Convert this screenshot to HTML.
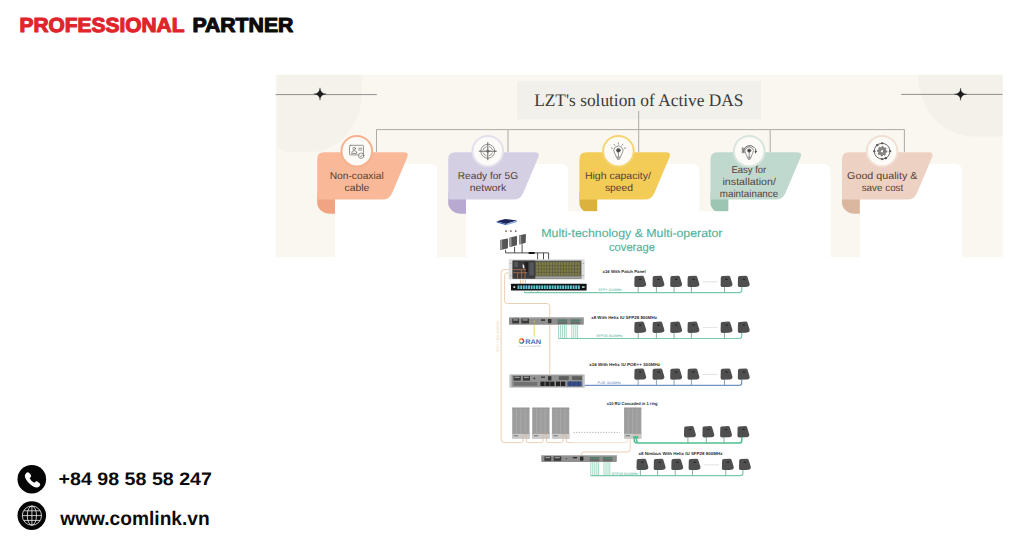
<!DOCTYPE html>
<html lang="en"><head><meta charset="utf-8"><title>Professional Partner</title>
<style>
html,body{margin:0;padding:0;background:#fff;}
body{width:1024px;height:538px;overflow:hidden;position:relative;font-family:'Liberation Sans', Arial, sans-serif;}
svg{position:absolute;left:0;top:0;display:block;}
svg text{text-rendering:geometricPrecision;}
</style></head><body>
<svg width="1024" height="538" viewBox="0 0 1024 538">
<rect x="275.6" y="74.8" width="727.0" height="182.5" fill="#f9f7f0"/>
<path d="M277,74.8 H362 V92 A52,60 0 0 1 310,152 H289 Q277,152 277,140 Z" fill="#f4f2eb"/>
<path d="M918.2,74.8 V75 A55,61.4 0 0 0 973.2,136.4 H1002.6 V74.8 Z" fill="#f3f1ea"/>
<line x1="275.6" y1="94.6" x2="376.8" y2="94.6" stroke="#858585" stroke-width="0.9"/>
<path transform="translate(320,94)" d="M0,-6.2 Q0.3,-0.3 6.2,0 Q0.3,0.3 0,6.2 Q-0.3,0.3 -6.2,0 Q-0.3,-0.3 0,-6.2Z" fill="#1d1d1d" stroke="#1d1d1d" stroke-width="0.3"/>
<line x1="901.2" y1="94.4" x2="1002.6" y2="94.4" stroke="#858585" stroke-width="0.9"/>
<path transform="translate(960.6,94.2)" d="M0,-6.2 Q0.3,-0.3 6.2,0 Q0.3,0.3 0,6.2 Q-0.3,0.3 -6.2,0 Q-0.3,-0.3 0,-6.2Z" fill="#1d1d1d" stroke="#1d1d1d" stroke-width="0.3"/>
<rect x="517" y="81" width="244" height="38.3" fill="#f2f0ea"/>
<text x="534.2" y="106.1" font-size="17.7" fill="#3b3b3b" font-weight="normal" font-family="'Liberation Serif', 'Times New Roman', serif" text-anchor="start" textLength="209.2" lengthAdjust="spacingAndGlyphs" >LZT's solution of Active DAS</text>
<path d="M376.5,152 V129.6 H904.4 V152 M508,129.6 V152 M638.7,111 V152 M770.2,129.6 V152" fill="none" stroke="#aeaaa5" stroke-width="1"/>
<path d="M335.2,257.3 V171 Q335.2,164 342.2,164 H430.2 Q437.2,164 437.2,171 V257.3 Z" fill="#ffffff"/>
<path d="M466.2,257.3 V171 Q466.2,164 473.2,164 H561.2 Q568.2,164 568.2,171 V257.3 Z" fill="#ffffff"/>
<path d="M597.4,257.3 V171 Q597.4,164 604.4,164 H692.4 Q699.4,164 699.4,171 V257.3 Z" fill="#ffffff"/>
<path d="M728.5,257.3 V171 Q728.5,164 735.5,164 H823.5 Q830.5,164 830.5,171 V257.3 Z" fill="#ffffff"/>
<path d="M860.0,257.3 V171 Q860.0,164 867.0,164 H955.0 Q962.0,164 962.0,171 V257.3 Z" fill="#ffffff"/>
<path d="M317.2,192.3 H335.0 V213.70000000000002 H330.2 A13,11 0 0 1 317.2,202.70000000000002 Z" fill="#f0a482"/>
<path d="M324.2,152.3 H403.7 Q409.4,152.3 407.29999999999995,157.3 L392.29999999999995,192.70000000000002 Q389.4,199.60000000000002 382.7,199.60000000000002 H317.2 V159.3 Q317.2,152.3 324.2,152.3 Z" fill="#f9b998"/>
<circle cx="356.8" cy="151.2" r="16.3" fill="#f5b08c"/>
<circle cx="356.8" cy="151.2" r="14.3" fill="#fdfbf8"/>
<g transform="translate(356.8,151.2)" fill="none" stroke="#555555" stroke-width="0.62" stroke-linecap="round" stroke-linejoin="round"><rect x="-7.3" y="-5.9" width="14" height="9.6" rx="1"/><circle cx="-2.6" cy="-2.6" r="1.3"/><path d="M-5.2,1.8 Q-5.2,-0.6 -2.6,-0.6 Q0,-0.6 0,1.8 Z"/><path d="M1.8,-3 H5 M1.8,-1.2 H5"/><circle cx="4.4" cy="4.5" r="2.7" fill="#fdfbf8"/><path d="M3.2,4.6 L4.1,5.5 L5.7,3.6"/></g>
<text x="329.7" y="179.4" font-size="10" fill="#563f36" font-weight="normal" font-family="'Liberation Sans', Arial, sans-serif" text-anchor="start" textLength="54.0" lengthAdjust="spacingAndGlyphs" >Non-coaxial</text>
<text x="344.5" y="191.1" font-size="10" fill="#563f36" font-weight="normal" font-family="'Liberation Sans', Arial, sans-serif" text-anchor="start" textLength="24.8" lengthAdjust="spacingAndGlyphs" >cable</text>
<path d="M448.2,192.3 H466.0 V213.70000000000002 H461.2 A13,11 0 0 1 448.2,202.70000000000002 Z" fill="#b8a9d0"/>
<path d="M455.2,152.3 H534.7 Q540.4,152.3 538.3,157.3 L523.3,192.70000000000002 Q520.4,199.60000000000002 513.7,199.60000000000002 H448.2 V159.3 Q448.2,152.3 455.2,152.3 Z" fill="#d5cfe3"/>
<circle cx="487.8" cy="151.2" r="16.3" fill="#e3dfec"/>
<circle cx="487.8" cy="151.2" r="14.3" fill="#fdfbf8"/>
<g transform="translate(487.8,151.2)" fill="none" stroke="#555555" stroke-width="0.62" stroke-linecap="round" stroke-linejoin="round"><circle r="7"/><circle r="1.3"/><path d="M-8.6,0 H8.6 M0,-8.6 V8.6" stroke-width="0.9"/><path d="M-4.6,-1.6 A4.8,4.8 0 0 1 -1.6,-4.6 M1.6,-4.6 A4.8,4.8 0 0 1 4.6,-1.6 M4.6,1.6 A4.8,4.8 0 0 1 1.6,4.6 M-1.6,4.6 A4.8,4.8 0 0 1 -4.6,1.6" stroke-width="0.6"/></g>
<text x="457.8" y="179.4" font-size="10" fill="#563f36" font-weight="normal" font-family="'Liberation Sans', Arial, sans-serif" text-anchor="start" textLength="60.3" lengthAdjust="spacingAndGlyphs" >Ready for 5G</text>
<text x="469.7" y="191.1" font-size="10" fill="#563f36" font-weight="normal" font-family="'Liberation Sans', Arial, sans-serif" text-anchor="start" textLength="36.5" lengthAdjust="spacingAndGlyphs" >network</text>
<path d="M579.4,192.3 H597.1999999999999 V213.70000000000002 H592.4 A13,11 0 0 1 579.4,202.70000000000002 Z" fill="#dcb23e"/>
<path d="M586.4,152.3 H665.9 Q671.6,152.3 669.5,157.3 L654.5,192.70000000000002 Q651.6,199.60000000000002 644.9,199.60000000000002 H579.4 V159.3 Q579.4,152.3 586.4,152.3 Z" fill="#f3cc58"/>
<circle cx="618.4" cy="151.2" r="16.3" fill="#f4d570"/>
<circle cx="618.4" cy="151.2" r="14.3" fill="#fdfbf8"/>
<g transform="translate(618.4,151.2)" fill="none" stroke="#555555" stroke-width="0.62" stroke-linecap="round" stroke-linejoin="round"><path d="M-2.2,5.6 Q-2.6,3.6 -3.8,2 A4.6,4.6 0 1 1 3.8,2 Q2.6,3.6 2.2,5.6 Z"/><path d="M-1.7,6.9 H1.7 M-0.9,8.1 H0.9"/><circle cx="0" cy="-0.9" r="1.9" fill="#4a4a4a"/><path d="M0,1 V5.4"/><path d="M-5.92,-2.15 L-7.14,-2.60 M-3.61,-5.16 L-4.36,-6.23 M0.00,-6.30 L0.00,-7.60 M3.61,-5.16 L4.36,-6.23 M5.92,-2.15 L7.14,-2.60 " transform="translate(0,-0.7)"/></g>
<text x="584.9" y="179.4" font-size="10" fill="#563f36" font-weight="normal" font-family="'Liberation Sans', Arial, sans-serif" text-anchor="start" textLength="66.0" lengthAdjust="spacingAndGlyphs" >High capacity/</text>
<text x="604.9" y="191.1" font-size="10" fill="#563f36" font-weight="normal" font-family="'Liberation Sans', Arial, sans-serif" text-anchor="start" textLength="28.2" lengthAdjust="spacingAndGlyphs" >speed</text>
<path d="M710.5,192.3 H728.3 V213.70000000000002 H723.5 A13,11 0 0 1 710.5,202.70000000000002 Z" fill="#9cc5b3"/>
<path d="M717.5,152.3 H797.0 Q802.7,152.3 800.6,157.3 L785.6,192.70000000000002 Q782.7,199.60000000000002 776.0,199.60000000000002 H710.5 V159.3 Q710.5,152.3 717.5,152.3 Z" fill="#c0d9ce"/>
<circle cx="749.2" cy="151.2" r="16.3" fill="#d6e6de"/>
<circle cx="749.2" cy="151.2" r="14.3" fill="#fdfbf8"/>
<g transform="translate(749.2,151.2)" fill="none" stroke="#555555" stroke-width="0.62" stroke-linecap="round" stroke-linejoin="round"><path d="M-2,5.8 Q-2.4,3.8 -3.4,2.4 A4.2,4.2 0 1 1 3.4,2.4 Q2.4,3.8 2,5.8 Z"/><path d="M-1.5,7 H1.5 M-0.8,8.2 H0.8"/><circle cx="0" cy="-0.6" r="1.7" fill="#4a4a4a"/><path d="M0,1 V5.6"/><path d="M-5.2,1.6 A6,6 0 0 1 5.2,-3.6 M6.3,-2.4 A6.6,6.6 0 0 1 6.4,1.8" stroke-width="0.9"/><path d="M-6.9,-3.6 V1.6 M-5.9,-3 V1" stroke-width="0.7"/><circle cx="6.6" cy="0.4" r="0.7" fill="#3d3d3d"/></g>
<text x="731.4" y="173.0" font-size="10" fill="#563f36" font-weight="normal" font-family="'Liberation Sans', Arial, sans-serif" text-anchor="start" textLength="34.9" lengthAdjust="spacingAndGlyphs" >Easy for</text>
<text x="722.5" y="184.9" font-size="10" fill="#563f36" font-weight="normal" font-family="'Liberation Sans', Arial, sans-serif" text-anchor="start" textLength="53.4" lengthAdjust="spacingAndGlyphs" >installation/</text>
<text x="719.8" y="196.7" font-size="10" fill="#563f36" font-weight="normal" font-family="'Liberation Sans', Arial, sans-serif" text-anchor="start" textLength="58.4" lengthAdjust="spacingAndGlyphs" >maintainance</text>
<path d="M842.0,192.3 H859.8 V213.70000000000002 H855.0 A13,11 0 0 1 842.0,202.70000000000002 Z" fill="#dcb7a0"/>
<path d="M849.0,152.3 H928.5 Q934.2,152.3 932.1,157.3 L917.1,192.70000000000002 Q914.2,199.60000000000002 907.5,199.60000000000002 H842.0 V159.3 Q842.0,152.3 849.0,152.3 Z" fill="#edd2c3"/>
<circle cx="882.1" cy="151.2" r="16.3" fill="#f2ded2"/>
<circle cx="882.1" cy="151.2" r="14.3" fill="#fdfbf8"/>
<g transform="translate(882.1,151.2)" fill="none" stroke="#555555" stroke-width="0.62" stroke-linecap="round" stroke-linejoin="round"><path d="M4.80,0.00 L4.71,0.94 L3.33,1.38 L2.99,2.00 L3.39,3.39 L2.67,3.99 L1.38,3.33 L0.70,3.53 L0.00,4.80 L-0.94,4.71 L-1.38,3.33 L-2.00,2.99 L-3.39,3.39 L-3.99,2.67 L-3.33,1.38 L-3.53,0.70 L-4.80,0.00 L-4.71,-0.94 L-3.33,-1.38 L-2.99,-2.00 L-3.39,-3.39 L-2.67,-3.99 L-1.38,-3.33 L-0.70,-3.53 L-0.00,-4.80 L0.94,-4.71 L1.38,-3.33 L2.00,-2.99 L3.39,-3.39 L3.99,-2.67 L3.33,-1.38 L3.53,-0.70Z" fill="#8b8b8b" stroke-width="0.6"/><circle r="1.7" fill="#fdfbf8"/><circle r="7.9" stroke-dasharray="5.2 1" stroke-width="0.9"/><circle cx="0" cy="-7.9" r="0.8" fill="#3d3d3d"/><circle cx="7.9" cy="0" r="0.8" fill="#3d3d3d"/><circle cx="0" cy="7.9" r="0.8" fill="#3d3d3d"/><circle cx="-7.9" cy="0" r="0.8" fill="#3d3d3d"/><circle cx="-5" cy="-6.1" r="0.9" fill="#3d3d3d"/><circle cx="3.6" cy="7" r="0.9" fill="#3d3d3d"/></g>
<text x="847.1" y="179.4" font-size="10" fill="#563f36" font-weight="normal" font-family="'Liberation Sans', Arial, sans-serif" text-anchor="start" textLength="70.3" lengthAdjust="spacingAndGlyphs" >Good quality &amp;</text>
<text x="861.7" y="191.1" font-size="10" fill="#563f36" font-weight="normal" font-family="'Liberation Sans', Arial, sans-serif" text-anchor="start" textLength="41.6" lengthAdjust="spacingAndGlyphs" >save cost</text>
<g id="diagram"><rect x="492" y="211.2" width="290" height="291" fill="#ffffff"/>
<text x="541.3" y="237.3" font-size="11.7" fill="#4fb29a" font-weight="normal" font-family="'Liberation Sans', Arial, sans-serif" text-anchor="start" textLength="181.2" lengthAdjust="spacingAndGlyphs" stroke="#4fb29a" stroke-width="0.12">Multi-technology &amp; Multi-operator</text>
<text x="609" y="251.4" font-size="11.7" fill="#4fb29a" font-weight="normal" font-family="'Liberation Sans', Arial, sans-serif" text-anchor="start" textLength="46" lengthAdjust="spacingAndGlyphs" stroke="#4fb29a" stroke-width="0.12">coverage</text>
<path d="M516,269.6 H504 Q501.1,269.6 501.1,272.5 V439 Q501.1,442.6 504.5,442.6 H521.5 Q523,442.6 523,441 V438.4 M526.5,438.4 V441 Q526.5,442.6 528,442.6 H541.5 Q543,442.6 543,441 V438.4 M546.5,438.4 V441 Q546.5,442.6 548,442.6 H561.5 Q563,442.6 563,441 V438.4 M566.5,438.4 V441 Q566.5,442.6 568,442.6 H572" fill="none" stroke="#ecd0b3" stroke-width="1"/>
<path d="M572,442.6 H625.5 Q627.4,442.6 627.4,441 V438.4" fill="none" stroke="#f3e3d2" stroke-width="1"/>
<path d="M516,272.9 H507 Q504.6,272.9 504.6,275.5 V301 Q504.6,303.5 507.5,303.5 H547 Q549.8,303.5 549.8,306.5 V374.2" fill="none" stroke="#ecd0b3" stroke-width="1"/>
<path d="M630.2,438.4 V449.5 Q630.2,452 627.5,452 H584 Q581.5,452 581.5,454 V455.5" fill="none" stroke="#ecd0b3" stroke-width="1"/>
<text transform="translate(498.6,352) rotate(-90)" font-size="3.6" fill="#ecd0b3" font-family="'Liberation Sans', Arial, sans-serif" textLength="31" lengthAdjust="spacingAndGlyphs">SFP+ / 10G 300MHz</text>
<path d="M496.7,221.2 L505,218.9 L517,220.5 L506.3,223.9 Z" fill="#1c2756"/>
<path d="M496.7,221.2 L506.3,223.9 L506.3,225.3 L496.7,222.5 Z" fill="#3d62b4"/>
<path d="M506.3,223.9 L517,220.5 L517,221.9 L506.3,225.3 Z" fill="#8eaade"/>
<circle cx="506" cy="231.1" r="0.85" fill="#6b5148"/>
<circle cx="510.9" cy="231.1" r="0.85" fill="#6b5148"/>
<circle cx="515.8" cy="231.1" r="0.85" fill="#6b5148"/>
<path d="M500.0,240.1 L507.3,238.4 Q508.1,238.3 508.1,239.2 L507.90000000000003,248.3 L500.9,249.9 Q500.1,249.9 500.1,249.0 Z" fill="#555555"/>
<path d="M500.2,240.3 L502.2,239.9 L502.2,249.4 L500.3,249.70000000000002 Z" fill="#9a9a9a"/>
<path d="M509.3,237.79999999999998 L516.3000000000001,236.1 Q517.1,236.0 517.1,236.89999999999998 L516.9,245.29999999999998 L510.2,246.89999999999998 Q509.40000000000003,246.89999999999998 509.40000000000003,245.99999999999997 Z" fill="#555555"/>
<path d="M509.5,238.0 L511.5,237.6 L511.5,246.39999999999998 L509.6,246.7 Z" fill="#9a9a9a"/>
<path d="M519.0,235.6 L525.1,233.9 Q525.9,233.8 525.9,234.7 L525.6999999999999,242.8 L519.9,244.4 Q519.1,244.4 519.1,243.5 Z" fill="#555555"/>
<path d="M519.2,235.8 L521.2,235.4 L521.2,243.9 L519.3,244.20000000000002 Z" fill="#9a9a9a"/>
<path d="M505.6,249.8 V252.9 H548.6 V260 M514.6,246.8 V252.9 M522.1,244.3 V252.9 M537.6,252.9 V260 M543.5,252.9 V260" fill="none" stroke="#3c3c3c" stroke-width="0.9"/>
<rect x="528.5" y="251.9" width="6.2" height="2" rx="0.9" fill="#141414"/>
<rect x="508.7" y="259.2" width="76" height="20.3" rx="0.8" fill="#dcdcdc"/>
<rect x="512.6" y="260.6" width="68.8" height="18" fill="#5a5a52"/>
<rect x="512.6" y="260.6" width="22.6" height="18" fill="#3b3b3d"/>
<path d="M522.4,264.4 L524.2,264.8 L525,268.6 L523,268.2 Z" fill="#e6e6e6"/>
<rect x="514.2" y="262" width="3.6" height="5" fill="#55575a"/>
<rect x="524.6" y="262" width="3.4" height="10" fill="#1f1f1f"/>
<rect x="529.4" y="262.5" width="4.4" height="13" fill="#55575a"/>
<path d="M513,269.6 H526 M513,272.7 H527 M521.6,270 V278.4 M525,268.6 V278.4 M517.5,272.7 V278" stroke="#b9744f" stroke-width="0.75" fill="none"/>
<rect x="536.20" y="262.2" width="4.6" height="13.6" fill="#807f49"/>
<path d="M538.50,262.2 V275.8 M536.20,265.6 h4.6 M536.20,269 h4.6 M536.20,272.4 h4.6" stroke="#4e4e31" stroke-width="0.55" fill="none"/>
<rect x="541.75" y="262.2" width="4.6" height="13.6" fill="#807f49"/>
<path d="M544.05,262.2 V275.8 M541.75,265.6 h4.6 M541.75,269 h4.6 M541.75,272.4 h4.6" stroke="#4e4e31" stroke-width="0.55" fill="none"/>
<rect x="547.30" y="262.2" width="4.6" height="13.6" fill="#807f49"/>
<path d="M549.60,262.2 V275.8 M547.30,265.6 h4.6 M547.30,269 h4.6 M547.30,272.4 h4.6" stroke="#4e4e31" stroke-width="0.55" fill="none"/>
<rect x="552.85" y="262.2" width="4.6" height="13.6" fill="#807f49"/>
<path d="M555.15,262.2 V275.8 M552.85,265.6 h4.6 M552.85,269 h4.6 M552.85,272.4 h4.6" stroke="#4e4e31" stroke-width="0.55" fill="none"/>
<rect x="558.40" y="262.2" width="4.6" height="13.6" fill="#807f49"/>
<path d="M560.70,262.2 V275.8 M558.40,265.6 h4.6 M558.40,269 h4.6 M558.40,272.4 h4.6" stroke="#4e4e31" stroke-width="0.55" fill="none"/>
<rect x="563.95" y="262.2" width="4.6" height="13.6" fill="#807f49"/>
<path d="M566.25,262.2 V275.8 M563.95,265.6 h4.6 M563.95,269 h4.6 M563.95,272.4 h4.6" stroke="#4e4e31" stroke-width="0.55" fill="none"/>
<rect x="569.50" y="262.2" width="4.6" height="13.6" fill="#807f49"/>
<path d="M571.80,262.2 V275.8 M569.50,265.6 h4.6 M569.50,269 h4.6 M569.50,272.4 h4.6" stroke="#4e4e31" stroke-width="0.55" fill="none"/>
<rect x="575.05" y="262.2" width="4.6" height="13.6" fill="#807f49"/>
<path d="M577.35,262.2 V275.8 M575.05,265.6 h4.6 M575.05,269 h4.6 M575.05,272.4 h4.6" stroke="#4e4e31" stroke-width="0.55" fill="none"/>
<rect x="535.4" y="276.4" width="45.6" height="1.6" fill="#a5a5a5"/>
<circle cx="510.7" cy="263.5" r="0.6" fill="#9a9a9a"/><circle cx="510.7" cy="275.5" r="0.6" fill="#9a9a9a"/><circle cx="583.3" cy="263.5" r="0.6" fill="#9a9a9a"/><circle cx="583.3" cy="275.5" r="0.6" fill="#9a9a9a"/>
<path d="M520.5,279.7 V283.6 M523,279.7 V283.6 M525.5,279.7 V283.6" stroke="#e3b58e" stroke-width="0.8"/>
<rect x="511" y="283.7" width="75.6" height="6.9" rx="0.6" fill="#131313"/>
<rect x="517.60" y="285.4" width="1.9" height="3.6" fill="#63c6d9"/>
<rect x="520.22" y="285.4" width="1.9" height="3.6" fill="#63c6d9"/>
<rect x="522.84" y="285.4" width="1.9" height="3.6" fill="#63c6d9"/>
<rect x="525.46" y="285.4" width="1.9" height="3.6" fill="#63c6d9"/>
<rect x="528.08" y="285.4" width="1.9" height="3.6" fill="#63c6d9"/>
<rect x="530.70" y="285.4" width="1.9" height="3.6" fill="#63c6d9"/>
<rect x="533.32" y="285.4" width="1.9" height="3.6" fill="#63c6d9"/>
<rect x="535.94" y="285.4" width="1.9" height="3.6" fill="#63c6d9"/>
<rect x="538.56" y="285.4" width="1.9" height="3.6" fill="#63c6d9"/>
<rect x="541.18" y="285.4" width="1.9" height="3.6" fill="#63c6d9"/>
<rect x="543.80" y="285.4" width="1.9" height="3.6" fill="#63c6d9"/>
<rect x="546.42" y="285.4" width="1.9" height="3.6" fill="#63c6d9"/>
<rect x="549.04" y="285.4" width="1.9" height="3.6" fill="#63c6d9"/>
<rect x="551.66" y="285.4" width="1.9" height="3.6" fill="#63c6d9"/>
<rect x="554.28" y="285.4" width="1.9" height="3.6" fill="#63c6d9"/>
<rect x="556.90" y="285.4" width="1.9" height="3.6" fill="#63c6d9"/>
<rect x="559.52" y="285.4" width="1.9" height="3.6" fill="#63c6d9"/>
<rect x="562.14" y="285.4" width="1.9" height="3.6" fill="#63c6d9"/>
<rect x="564.76" y="285.4" width="1.9" height="3.6" fill="#63c6d9"/>
<rect x="567.38" y="285.4" width="1.9" height="3.6" fill="#63c6d9"/>
<rect x="570.00" y="285.4" width="1.9" height="3.6" fill="#63c6d9"/>
<rect x="572.62" y="285.4" width="1.9" height="3.6" fill="#63c6d9"/>
<rect x="575.24" y="285.4" width="1.9" height="3.6" fill="#63c6d9"/>
<rect x="577.86" y="285.4" width="1.9" height="3.6" fill="#63c6d9"/>
<rect x="513.4" y="286.2" width="1.8" height="1.8" fill="#d8d8d8"/>
<rect x="582" y="286.2" width="2.6" height="1.8" fill="#bdbdbd"/>
<rect x="509" y="317.3" width="74.8" height="7.4" rx="0.6" fill="#8f8f8f"/>
<rect x="509" y="317.3" width="74.8" height="1" fill="#b8b8b8"/>
<rect x="512.2" y="318.6" width="6.8" height="4.8" fill="#3a3a3a"/><rect x="521.4" y="318.6" width="7.6" height="4.8" fill="#3a3a3a"/>
<rect x="513.2" y="319.2" width="4.6" height="1.4" fill="#9a9a9a"/><rect x="522.6" y="319.2" width="5" height="1.4" fill="#9a9a9a"/>
<circle cx="534.2" cy="321.4" r="0.9" fill="#c9b44a"/>
<rect x="541" y="319.4" width="4" height="1.4" fill="#2d2d2d"/><rect x="548" y="319" width="3.4" height="4.2" fill="#333"/>
<rect x="557.6" y="319.4" width="9.6" height="2" fill="#4f7f68"/><rect x="570.6" y="319.4" width="9.6" height="2" fill="#4f7f68"/>
<rect x="557.6" y="321.6" width="9.6" height="2.4" fill="#6a6a6a"/><rect x="570.6" y="321.6" width="9.6" height="2.4" fill="#6a6a6a"/>
<path d="M534.2,324.7 V336.4" stroke="#e6d24c" stroke-width="0.9"/>
<g transform="translate(521.5,341.1)" fill="none" stroke-width="1.5"><path d="M0,-2.2 A2.2,2.2 0 0 1 1.9,-1.1" stroke="#e5342a"/><path d="M1.9,-1.1 A2.2,2.2 0 0 1 1.9,1.1" stroke="#8e3fa0"/><path d="M1.9,1.1 A2.2,2.2 0 0 1 0,2.2" stroke="#2b6cb8"/><path d="M0,2.2 A2.2,2.2 0 0 1 -1.9,1.1" stroke="#3aa655"/><path d="M-1.9,1.1 A2.2,2.2 0 0 1 -1.9,-1.1" stroke="#f2c230"/><path d="M-1.9,-1.1 A2.2,2.2 0 0 1 0,-2.2" stroke="#f08a24"/></g>
<text x="525.2" y="343.6" font-size="6.7" fill="#3d73b8" font-weight="bold" font-family="'Liberation Sans', Arial, sans-serif" text-anchor="start" textLength="16" lengthAdjust="spacingAndGlyphs" >RAN</text>
<text x="517.8" y="346.6" font-size="2.2" fill="#b9bcc4" font-weight="normal" font-family="'Liberation Sans', Arial, sans-serif" text-anchor="start" textLength="23.4" lengthAdjust="spacingAndGlyphs" >ALLIANCE</text>
<path d="M558.6,324.7 V338.4 M560.6,324.7 V338.4 M562.6,324.7 V338.4 M564.6,324.7 V338.4 M566.2,324.7 V338.4 M571.8,324.7 V338.4 M573.8,324.7 V338.4 M575.8,324.7 V338.4 M577.6,324.7 V338.4 " stroke="#78c8aa" stroke-width="0.7" fill="none"/>
<rect x="509.4" y="374.2" width="75.4" height="13.6" rx="0.8" fill="#c2c2c2"/>
<rect x="511.6" y="375.2" width="71" height="11.6" fill="#939393"/>
<rect x="513.6" y="376" width="7.2" height="4.6" fill="#3a3a3a"/><rect x="522.8" y="376" width="7.2" height="4.6" fill="#3a3a3a"/>
<rect x="514.6" y="376.6" width="5" height="1.4" fill="#9d9d9d"/><rect x="523.8" y="376.6" width="5" height="1.4" fill="#9d9d9d"/>
<circle cx="534.4" cy="378.4" r="0.9" fill="#333"/>
<rect x="541" y="376.6" width="4" height="1.2" fill="#2d2d2d"/><rect x="548" y="376.2" width="3.4" height="4.2" fill="#333"/>
<rect x="558.8" y="376.2" width="10" height="3.8" fill="#5e5e5e"/><rect x="572" y="376.2" width="10" height="3.8" fill="#5e5e5e"/>
<rect x="513.6" y="382" width="23.6" height="3.8" fill="#747474"/>
<path d="M514,383.2 H537 M514,384.6 H537" stroke="#6d6d6d" stroke-width="0.5"/>
<rect x="540.4" y="381.6" width="4.2" height="4.4" fill="#232323"/>
<rect x="545.4" y="381.6" width="4.2" height="4.4" fill="#232323"/>
<rect x="550.2" y="381.6" width="4.2" height="4.4" fill="#232323"/>
<rect x="556" y="381.6" width="4.2" height="4.4" fill="#232323"/>
<rect x="561" y="381.6" width="4.2" height="4.4" fill="#232323"/>
<rect x="567.4" y="381.4" width="14.2" height="4.8" fill="#364d86"/>
<path d="M570.5,381.4 V386.2 M574.4,381.4 V386.2 M578.3,381.4 V386.2" stroke="#253a66" stroke-width="0.6"/>
<path d="M512.2,438.6 V408.6 Q512.2,407.0 513.8000000000001,407.0 H528.0 Q529.6,407.0 529.6,408.6 V438.6 Z" fill="#a9a9a9"/><rect x="512.8000000000001" y="408.6" width="16.2" height="24.600000000000023" fill="#9d9d9d"/><path d="M516.5,408.6 V433.20000000000005 M520.8000000000001,408.6 V433.20000000000005 M525.1,408.6 V433.20000000000005" stroke="#aaaaaa" stroke-width="0.9"/><rect x="512.2" y="407.0" width="17.4" height="1.4" rx="0.7" fill="#c9c9c9"/><rect x="512.2" y="433.20000000000005" width="17.4" height="5.4" fill="#cbcbcb"/><rect x="513.7" y="435.0" width="4.5" height="1.4" fill="#8a8a8a"/><path d="M523.0,438.6 V434.40000000000003 H526.5 V438.6" fill="none" stroke="#dcb89c" stroke-width="0.8"/><rect x="512.2" y="408.2" width="17.4" height="0.6" fill="#858585"/><rect x="512.2" y="433.0" width="17.4" height="0.5" fill="#858585"/>
<path d="M532.2,438.6 V408.6 Q532.2,407.0 533.8000000000001,407.0 H548.0 Q549.6,407.0 549.6,408.6 V438.6 Z" fill="#a9a9a9"/><rect x="532.8000000000001" y="408.6" width="16.2" height="24.600000000000023" fill="#9d9d9d"/><path d="M536.5,408.6 V433.20000000000005 M540.8000000000001,408.6 V433.20000000000005 M545.1,408.6 V433.20000000000005" stroke="#aaaaaa" stroke-width="0.9"/><rect x="532.2" y="407.0" width="17.4" height="1.4" rx="0.7" fill="#c9c9c9"/><rect x="532.2" y="433.20000000000005" width="17.4" height="5.4" fill="#cbcbcb"/><rect x="533.7" y="435.0" width="4.5" height="1.4" fill="#8a8a8a"/><path d="M543.0,438.6 V434.40000000000003 H546.5 V438.6" fill="none" stroke="#dcb89c" stroke-width="0.8"/><rect x="532.2" y="408.2" width="17.4" height="0.6" fill="#858585"/><rect x="532.2" y="433.0" width="17.4" height="0.5" fill="#858585"/>
<path d="M551.9,438.6 V408.6 Q551.9,407.0 553.5,407.0 H567.6999999999999 Q569.3,407.0 569.3,408.6 V438.6 Z" fill="#a9a9a9"/><rect x="552.5" y="408.6" width="16.2" height="24.600000000000023" fill="#9d9d9d"/><path d="M556.1999999999999,408.6 V433.20000000000005 M560.5,408.6 V433.20000000000005 M564.8,408.6 V433.20000000000005" stroke="#aaaaaa" stroke-width="0.9"/><rect x="551.9" y="407.0" width="17.4" height="1.4" rx="0.7" fill="#c9c9c9"/><rect x="551.9" y="433.20000000000005" width="17.4" height="5.4" fill="#cbcbcb"/><rect x="553.4" y="435.0" width="4.5" height="1.4" fill="#8a8a8a"/><path d="M562.6999999999999,438.6 V434.40000000000003 H566.1999999999999 V438.6" fill="none" stroke="#dcb89c" stroke-width="0.8"/><rect x="551.9" y="408.2" width="17.4" height="0.6" fill="#858585"/><rect x="551.9" y="433.0" width="17.4" height="0.5" fill="#858585"/>
<path d="M624.0,438.6 V408.6 Q624.0,407.0 625.6,407.0 H639.8 Q641.4,407.0 641.4,408.6 V438.6 Z" fill="#a9a9a9"/><rect x="624.6" y="408.6" width="16.2" height="24.600000000000023" fill="#9d9d9d"/><path d="M628.3,408.6 V433.20000000000005 M632.6,408.6 V433.20000000000005 M636.9,408.6 V433.20000000000005" stroke="#aaaaaa" stroke-width="0.9"/><rect x="624.0" y="407.0" width="17.4" height="1.4" rx="0.7" fill="#c9c9c9"/><rect x="624.0" y="433.20000000000005" width="17.4" height="5.4" fill="#cbcbcb"/><rect x="625.5" y="435.0" width="4.5" height="1.4" fill="#8a8a8a"/><path d="M634.8,438.6 V434.40000000000003 H638.3 V438.6" fill="none" stroke="#dcb89c" stroke-width="0.8"/><rect x="624.0" y="408.2" width="17.4" height="0.6" fill="#858585"/><rect x="624.0" y="433.0" width="17.4" height="0.5" fill="#858585"/>
<line x1="573.4" y1="432.4" x2="620" y2="432.4" stroke="#9c9c9c" stroke-width="0.8" stroke-dasharray="1.2 1.5"/>
<path d="M634.2,438.4 V440.6 Q634.2,443 637,443 H739 Q741.8,443 741.8,440.4 V437.2 M636.4,438.4 V440.4 Q636.6,441.6 638,441.6" fill="none" stroke="#4fbf8f" stroke-width="1.5"/>
<rect x="633.2" y="436" width="5" height="2.6" fill="#4fbf8f"/>
<rect x="541.3" y="455.1" width="75.5" height="6.8" rx="0.6" fill="#8f8f8f"/>
<rect x="541.3" y="455.1" width="75.5" height="1" fill="#b8b8b8"/>
<rect x="544.4" y="456.4" width="6.8" height="4.4" fill="#3a3a3a"/><rect x="553.6" y="456.4" width="7.6" height="4.4" fill="#3a3a3a"/>
<rect x="545.4" y="457" width="4.6" height="1.3" fill="#9a9a9a"/><rect x="554.8" y="457" width="5" height="1.3" fill="#9a9a9a"/>
<circle cx="566.4" cy="458.8" r="0.8" fill="#555"/>
<rect x="573" y="457" width="4" height="1.3" fill="#2d2d2d"/><rect x="580" y="456.6" width="3.4" height="4" fill="#2b2b2b"/>
<rect x="589.8" y="457" width="9.6" height="1.8" fill="#4f7f68"/><rect x="602.8" y="457" width="9.6" height="1.8" fill="#4f7f68"/>
<rect x="589.8" y="459" width="9.6" height="2.2" fill="#6a6a6a"/><rect x="602.8" y="459" width="9.6" height="2.2" fill="#6a6a6a"/>
<path d="M590.8,461.9 V476 M592.8,461.9 V476 M594.8,461.9 V476 M596.8,461.9 V476 M598.6,461.9 V476 M604,461.9 V476 M606,461.9 V476 M608,461.9 V476 M609.8,461.9 V476 " stroke="#78c8aa" stroke-width="0.7" fill="none"/>
<path d="M524.4,292.7 H739.3000000000001 Q741.7,292.7 741.7,290.3 V287.0" fill="none" stroke="#78c8aa" stroke-width="1.2"/>
<path d="M638.2,287.0 V292.7 M656.4000000000001,287.0 V292.7 M674.1,287.0 V292.7 M691.4000000000001,287.0 V292.7 M724.5,287.0 V292.7 " stroke="#7fa898" stroke-width="0.9" fill="none"/>
<path transform="translate(634.0,275.6)" d="M0.5,1.8 Q0.6,0.6 2,0.5 L8.2,0.1 Q9.5,0.1 10,1.3 L12.1,8.2 Q12.6,10 11.2,10.7 Q10,11.3 8,11.3 L2.2,11.5 Q0.4,11.5 0.3,9.8 Z" fill="#4f4f4f"/>
<rect x="639.0" y="278.8" width="2.6" height="0.9" rx="0.4" fill="#1c1c1c"/>
<path transform="translate(652.2,275.6)" d="M0.5,1.8 Q0.6,0.6 2,0.5 L8.2,0.1 Q9.5,0.1 10,1.3 L12.1,8.2 Q12.6,10 11.2,10.7 Q10,11.3 8,11.3 L2.2,11.5 Q0.4,11.5 0.3,9.8 Z" fill="#4f4f4f"/>
<rect x="657.2" y="278.8" width="2.6" height="0.9" rx="0.4" fill="#1c1c1c"/>
<path transform="translate(669.9,275.6)" d="M0.5,1.8 Q0.6,0.6 2,0.5 L8.2,0.1 Q9.5,0.1 10,1.3 L12.1,8.2 Q12.6,10 11.2,10.7 Q10,11.3 8,11.3 L2.2,11.5 Q0.4,11.5 0.3,9.8 Z" fill="#4f4f4f"/>
<rect x="674.9" y="278.8" width="2.6" height="0.9" rx="0.4" fill="#1c1c1c"/>
<path transform="translate(687.2,275.6)" d="M0.5,1.8 Q0.6,0.6 2,0.5 L8.2,0.1 Q9.5,0.1 10,1.3 L12.1,8.2 Q12.6,10 11.2,10.7 Q10,11.3 8,11.3 L2.2,11.5 Q0.4,11.5 0.3,9.8 Z" fill="#4f4f4f"/>
<rect x="692.2" y="278.8" width="2.6" height="0.9" rx="0.4" fill="#1c1c1c"/>
<path transform="translate(720.3,275.6)" d="M0.5,1.8 Q0.6,0.6 2,0.5 L8.2,0.1 Q9.5,0.1 10,1.3 L12.1,8.2 Q12.6,10 11.2,10.7 Q10,11.3 8,11.3 L2.2,11.5 Q0.4,11.5 0.3,9.8 Z" fill="#4f4f4f"/>
<rect x="725.3" y="278.8" width="2.6" height="0.9" rx="0.4" fill="#1c1c1c"/>
<path transform="translate(737.5,275.6)" d="M0.5,1.8 Q0.6,0.6 2,0.5 L8.2,0.1 Q9.5,0.1 10,1.3 L12.1,8.2 Q12.6,10 11.2,10.7 Q10,11.3 8,11.3 L2.2,11.5 Q0.4,11.5 0.3,9.8 Z" fill="#4f4f4f"/>
<rect x="742.5" y="278.8" width="2.6" height="0.9" rx="0.4" fill="#1c1c1c"/>
<line x1="702.7" y1="281.8" x2="717.6999999999999" y2="281.8" stroke="#cfcfcf" stroke-width="0.6"/>
<path d="M558.6,338.5 H739.3000000000001 Q741.7,338.5 741.7,336.1 V332.79999999999995" fill="none" stroke="#78c8aa" stroke-width="1.2"/>
<path d="M638.2,332.79999999999995 V338.5 M656.4000000000001,332.79999999999995 V338.5 M674.1,332.79999999999995 V338.5 M691.4000000000001,332.79999999999995 V338.5 M724.5,332.79999999999995 V338.5 " stroke="#7fa898" stroke-width="0.9" fill="none"/>
<path transform="translate(634.0,321.4)" d="M0.5,1.8 Q0.6,0.6 2,0.5 L8.2,0.1 Q9.5,0.1 10,1.3 L12.1,8.2 Q12.6,10 11.2,10.7 Q10,11.3 8,11.3 L2.2,11.5 Q0.4,11.5 0.3,9.8 Z" fill="#4f4f4f"/>
<rect x="639.0" y="324.59999999999997" width="2.6" height="0.9" rx="0.4" fill="#1c1c1c"/>
<path transform="translate(652.2,321.4)" d="M0.5,1.8 Q0.6,0.6 2,0.5 L8.2,0.1 Q9.5,0.1 10,1.3 L12.1,8.2 Q12.6,10 11.2,10.7 Q10,11.3 8,11.3 L2.2,11.5 Q0.4,11.5 0.3,9.8 Z" fill="#4f4f4f"/>
<rect x="657.2" y="324.59999999999997" width="2.6" height="0.9" rx="0.4" fill="#1c1c1c"/>
<path transform="translate(669.9,321.4)" d="M0.5,1.8 Q0.6,0.6 2,0.5 L8.2,0.1 Q9.5,0.1 10,1.3 L12.1,8.2 Q12.6,10 11.2,10.7 Q10,11.3 8,11.3 L2.2,11.5 Q0.4,11.5 0.3,9.8 Z" fill="#4f4f4f"/>
<rect x="674.9" y="324.59999999999997" width="2.6" height="0.9" rx="0.4" fill="#1c1c1c"/>
<path transform="translate(687.2,321.4)" d="M0.5,1.8 Q0.6,0.6 2,0.5 L8.2,0.1 Q9.5,0.1 10,1.3 L12.1,8.2 Q12.6,10 11.2,10.7 Q10,11.3 8,11.3 L2.2,11.5 Q0.4,11.5 0.3,9.8 Z" fill="#4f4f4f"/>
<rect x="692.2" y="324.59999999999997" width="2.6" height="0.9" rx="0.4" fill="#1c1c1c"/>
<path transform="translate(720.3,321.4)" d="M0.5,1.8 Q0.6,0.6 2,0.5 L8.2,0.1 Q9.5,0.1 10,1.3 L12.1,8.2 Q12.6,10 11.2,10.7 Q10,11.3 8,11.3 L2.2,11.5 Q0.4,11.5 0.3,9.8 Z" fill="#4f4f4f"/>
<rect x="725.3" y="324.59999999999997" width="2.6" height="0.9" rx="0.4" fill="#1c1c1c"/>
<path transform="translate(737.5,321.4)" d="M0.5,1.8 Q0.6,0.6 2,0.5 L8.2,0.1 Q9.5,0.1 10,1.3 L12.1,8.2 Q12.6,10 11.2,10.7 Q10,11.3 8,11.3 L2.2,11.5 Q0.4,11.5 0.3,9.8 Z" fill="#4f4f4f"/>
<rect x="742.5" y="324.59999999999997" width="2.6" height="0.9" rx="0.4" fill="#1c1c1c"/>
<line x1="702.7" y1="327.59999999999997" x2="717.6999999999999" y2="327.59999999999997" stroke="#cfcfcf" stroke-width="0.6"/>
<path d="M584.8,385.3 H739.3000000000001 Q741.7,385.3 741.7,382.90000000000003 V379.7" fill="none" stroke="#6f94c2" stroke-width="1.2"/>
<path d="M638.2,379.7 V385.3 M656.4000000000001,379.7 V385.3 M674.1,379.7 V385.3 M691.4000000000001,379.7 V385.3 M724.5,379.7 V385.3 " stroke="#8399b3" stroke-width="0.9" fill="none"/>
<path transform="translate(634.0,368.3)" d="M0.5,1.8 Q0.6,0.6 2,0.5 L8.2,0.1 Q9.5,0.1 10,1.3 L12.1,8.2 Q12.6,10 11.2,10.7 Q10,11.3 8,11.3 L2.2,11.5 Q0.4,11.5 0.3,9.8 Z" fill="#4f4f4f"/>
<rect x="639.0" y="371.5" width="2.6" height="0.9" rx="0.4" fill="#1c1c1c"/>
<path transform="translate(652.2,368.3)" d="M0.5,1.8 Q0.6,0.6 2,0.5 L8.2,0.1 Q9.5,0.1 10,1.3 L12.1,8.2 Q12.6,10 11.2,10.7 Q10,11.3 8,11.3 L2.2,11.5 Q0.4,11.5 0.3,9.8 Z" fill="#4f4f4f"/>
<rect x="657.2" y="371.5" width="2.6" height="0.9" rx="0.4" fill="#1c1c1c"/>
<path transform="translate(669.9,368.3)" d="M0.5,1.8 Q0.6,0.6 2,0.5 L8.2,0.1 Q9.5,0.1 10,1.3 L12.1,8.2 Q12.6,10 11.2,10.7 Q10,11.3 8,11.3 L2.2,11.5 Q0.4,11.5 0.3,9.8 Z" fill="#4f4f4f"/>
<rect x="674.9" y="371.5" width="2.6" height="0.9" rx="0.4" fill="#1c1c1c"/>
<path transform="translate(687.2,368.3)" d="M0.5,1.8 Q0.6,0.6 2,0.5 L8.2,0.1 Q9.5,0.1 10,1.3 L12.1,8.2 Q12.6,10 11.2,10.7 Q10,11.3 8,11.3 L2.2,11.5 Q0.4,11.5 0.3,9.8 Z" fill="#4f4f4f"/>
<rect x="692.2" y="371.5" width="2.6" height="0.9" rx="0.4" fill="#1c1c1c"/>
<path transform="translate(720.3,368.3)" d="M0.5,1.8 Q0.6,0.6 2,0.5 L8.2,0.1 Q9.5,0.1 10,1.3 L12.1,8.2 Q12.6,10 11.2,10.7 Q10,11.3 8,11.3 L2.2,11.5 Q0.4,11.5 0.3,9.8 Z" fill="#4f4f4f"/>
<rect x="725.3" y="371.5" width="2.6" height="0.9" rx="0.4" fill="#1c1c1c"/>
<path transform="translate(737.5,368.3)" d="M0.5,1.8 Q0.6,0.6 2,0.5 L8.2,0.1 Q9.5,0.1 10,1.3 L12.1,8.2 Q12.6,10 11.2,10.7 Q10,11.3 8,11.3 L2.2,11.5 Q0.4,11.5 0.3,9.8 Z" fill="#4f4f4f"/>
<rect x="742.5" y="371.5" width="2.6" height="0.9" rx="0.4" fill="#1c1c1c"/>
<line x1="702.7" y1="374.5" x2="717.6999999999999" y2="374.5" stroke="#cfcfcf" stroke-width="0.6"/>
<path d="M687.9000000000001,437.4 V443 M706.3000000000001,437.4 V443 M724.0,437.4 V443 " stroke="#6fae94" stroke-width="0.9" fill="none"/>
<path transform="translate(683.7,426.0)" d="M0.5,1.8 Q0.6,0.6 2,0.5 L8.2,0.1 Q9.5,0.1 10,1.3 L12.1,8.2 Q12.6,10 11.2,10.7 Q10,11.3 8,11.3 L2.2,11.5 Q0.4,11.5 0.3,9.8 Z" fill="#4f4f4f"/>
<rect x="688.7" y="429.2" width="2.6" height="0.9" rx="0.4" fill="#1c1c1c"/>
<path transform="translate(702.1,426.0)" d="M0.5,1.8 Q0.6,0.6 2,0.5 L8.2,0.1 Q9.5,0.1 10,1.3 L12.1,8.2 Q12.6,10 11.2,10.7 Q10,11.3 8,11.3 L2.2,11.5 Q0.4,11.5 0.3,9.8 Z" fill="#4f4f4f"/>
<rect x="707.1" y="429.2" width="2.6" height="0.9" rx="0.4" fill="#1c1c1c"/>
<path transform="translate(719.8,426.0)" d="M0.5,1.8 Q0.6,0.6 2,0.5 L8.2,0.1 Q9.5,0.1 10,1.3 L12.1,8.2 Q12.6,10 11.2,10.7 Q10,11.3 8,11.3 L2.2,11.5 Q0.4,11.5 0.3,9.8 Z" fill="#4f4f4f"/>
<rect x="724.8" y="429.2" width="2.6" height="0.9" rx="0.4" fill="#1c1c1c"/>
<path transform="translate(737.1,426.0)" d="M0.5,1.8 Q0.6,0.6 2,0.5 L8.2,0.1 Q9.5,0.1 10,1.3 L12.1,8.2 Q12.6,10 11.2,10.7 Q10,11.3 8,11.3 L2.2,11.5 Q0.4,11.5 0.3,9.8 Z" fill="#4f4f4f"/>
<rect x="742.1" y="429.2" width="2.6" height="0.9" rx="0.4" fill="#1c1c1c"/>
<path d="M590.8,475.7 H740.5000000000001 Q742.9000000000001,475.7 742.9000000000001,473.3 V470.0" fill="none" stroke="#78c8aa" stroke-width="1.2"/>
<path d="M640.4000000000001,470.0 V475.7 M657.6,470.0 V475.7 M675.2,470.0 V475.7 M692.5,470.0 V475.7 M725.8000000000001,470.0 V475.7 " stroke="#7fa898" stroke-width="0.9" fill="none"/>
<path transform="translate(636.2,458.6)" d="M0.5,1.8 Q0.6,0.6 2,0.5 L8.2,0.1 Q9.5,0.1 10,1.3 L12.1,8.2 Q12.6,10 11.2,10.7 Q10,11.3 8,11.3 L2.2,11.5 Q0.4,11.5 0.3,9.8 Z" fill="#4f4f4f"/>
<rect x="641.2" y="461.8" width="2.6" height="0.9" rx="0.4" fill="#1c1c1c"/>
<path transform="translate(653.4,458.6)" d="M0.5,1.8 Q0.6,0.6 2,0.5 L8.2,0.1 Q9.5,0.1 10,1.3 L12.1,8.2 Q12.6,10 11.2,10.7 Q10,11.3 8,11.3 L2.2,11.5 Q0.4,11.5 0.3,9.8 Z" fill="#4f4f4f"/>
<rect x="658.4" y="461.8" width="2.6" height="0.9" rx="0.4" fill="#1c1c1c"/>
<path transform="translate(671.0,458.6)" d="M0.5,1.8 Q0.6,0.6 2,0.5 L8.2,0.1 Q9.5,0.1 10,1.3 L12.1,8.2 Q12.6,10 11.2,10.7 Q10,11.3 8,11.3 L2.2,11.5 Q0.4,11.5 0.3,9.8 Z" fill="#4f4f4f"/>
<rect x="676.0" y="461.8" width="2.6" height="0.9" rx="0.4" fill="#1c1c1c"/>
<path transform="translate(688.3,458.6)" d="M0.5,1.8 Q0.6,0.6 2,0.5 L8.2,0.1 Q9.5,0.1 10,1.3 L12.1,8.2 Q12.6,10 11.2,10.7 Q10,11.3 8,11.3 L2.2,11.5 Q0.4,11.5 0.3,9.8 Z" fill="#4f4f4f"/>
<rect x="693.3" y="461.8" width="2.6" height="0.9" rx="0.4" fill="#1c1c1c"/>
<path transform="translate(721.6,458.6)" d="M0.5,1.8 Q0.6,0.6 2,0.5 L8.2,0.1 Q9.5,0.1 10,1.3 L12.1,8.2 Q12.6,10 11.2,10.7 Q10,11.3 8,11.3 L2.2,11.5 Q0.4,11.5 0.3,9.8 Z" fill="#4f4f4f"/>
<rect x="726.6" y="461.8" width="2.6" height="0.9" rx="0.4" fill="#1c1c1c"/>
<path transform="translate(738.7,458.6)" d="M0.5,1.8 Q0.6,0.6 2,0.5 L8.2,0.1 Q9.5,0.1 10,1.3 L12.1,8.2 Q12.6,10 11.2,10.7 Q10,11.3 8,11.3 L2.2,11.5 Q0.4,11.5 0.3,9.8 Z" fill="#4f4f4f"/>
<rect x="743.7" y="461.8" width="2.6" height="0.9" rx="0.4" fill="#1c1c1c"/>
<line x1="703.8" y1="464.8" x2="719.0" y2="464.8" stroke="#cfcfcf" stroke-width="0.6"/>
<path d="M524.4,290.6 V292.7 M531,290.6 V292.7 M538,290.6 V292.7" stroke="#78c8aa" stroke-width="0.8"/>
<text x="602.6" y="272.9" font-size="4.3" fill="#2e2e2e" font-weight="bold" font-family="'Liberation Sans', Arial, sans-serif" text-anchor="start" textLength="43" lengthAdjust="spacingAndGlyphs" >x16 With Patch Panel</text>
<text x="591.2" y="318.8" font-size="4.3" fill="#2e2e2e" font-weight="bold" font-family="'Liberation Sans', Arial, sans-serif" text-anchor="start" textLength="65.7" lengthAdjust="spacingAndGlyphs" >x8 With Helix IU SFP28 800MHz</text>
<text x="589.2" y="366.0" font-size="4.3" fill="#2e2e2e" font-weight="bold" font-family="'Liberation Sans', Arial, sans-serif" text-anchor="start" textLength="70.8" lengthAdjust="spacingAndGlyphs" >x16 With Helix IU POE++ 300MHz</text>
<text x="606.7" y="404.7" font-size="4.3" fill="#2e2e2e" font-weight="bold" font-family="'Liberation Sans', Arial, sans-serif" text-anchor="start" textLength="50.8" lengthAdjust="spacingAndGlyphs" >x10 RU Cascaded in 1 ring</text>
<text x="638.6" y="455.0" font-size="4.3" fill="#2e2e2e" font-weight="bold" font-family="'Liberation Sans', Arial, sans-serif" text-anchor="start" textLength="83.8" lengthAdjust="spacingAndGlyphs" >x8 Nimbus With Helix IU SFP28 800MHz</text>
<text x="598.3" y="291.2" font-size="3.5" fill="#4fb29a" font-weight="normal" font-family="'Liberation Sans', Arial, sans-serif" text-anchor="start" textLength="23.6" lengthAdjust="spacingAndGlyphs" >SFP+  300MHz</text>
<text x="596.2" y="337.1" font-size="3.5" fill="#4fb29a" font-weight="normal" font-family="'Liberation Sans', Arial, sans-serif" text-anchor="start" textLength="26.4" lengthAdjust="spacingAndGlyphs" >SFP28  800MHz</text>
<text x="597.6" y="384.1" font-size="3.5" fill="#5f86bb" font-weight="normal" font-family="'Liberation Sans', Arial, sans-serif" text-anchor="start" textLength="23.4" lengthAdjust="spacingAndGlyphs" >POE  300MHz</text>
<text x="611.6" y="474.6" font-size="3.5" fill="#4fb29a" font-weight="normal" font-family="'Liberation Sans', Arial, sans-serif" text-anchor="start" textLength="26.4" lengthAdjust="spacingAndGlyphs" >SFP28  800MHz</text></g>
<text x="19.5" y="31.75" font-size="20.4" fill="#e0242c" font-weight="bold" font-family="'Liberation Sans', Arial, sans-serif" text-anchor="start" textLength="165" lengthAdjust="spacingAndGlyphs" stroke="#e0242c" stroke-width="1.1" stroke-linejoin="round">PROFESSIONAL</text>
<text x="192.4" y="31.75" font-size="20.4" fill="#0b0b0b" font-weight="bold" font-family="'Liberation Sans', Arial, sans-serif" text-anchor="start" textLength="101" lengthAdjust="spacingAndGlyphs" stroke="#0b0b0b" stroke-width="1.1" stroke-linejoin="round">PARTNER</text>
<circle cx="31.8" cy="479.2" r="14.3" fill="#050505"/>
<path transform="translate(32.1,479.5) scale(0.88)" d="M-6.6,-7.4 q1.6,-1.8 3.2,-0.2 l2,2.6 q0.9,1.3 -0.3,2.5 l-1.1,1.1 q1.7,3.4 5.2,5.2 l1.1,-1.1 q1.2,-1.2 2.5,-0.3 l2.6,2 q1.6,1.6 -0.2,3.2 q-2.6,2.6 -6.6,0.6 q-6.2,-3.2 -9.2,-9.2 q-2,-4 0.8,-6.4z" fill="#ffffff"/>
<text x="58.6" y="484.9" font-size="18" fill="#0b0b0b" font-weight="bold" font-family="'Liberation Sans', Arial, sans-serif" text-anchor="start" textLength="153.3" lengthAdjust="spacingAndGlyphs" >+84 98 58 58 247</text>
<circle cx="31.8" cy="515.6" r="14.3" fill="#050505"/>
<g transform="translate(31.9,515.6)" fill="none" stroke="#ffffff" stroke-width="0.75"><circle r="9.6"/><ellipse rx="4.6" ry="9.6"/><line x1="0" y1="-9.6" x2="0" y2="9.6"/><line x1="-9.6" y1="0" x2="9.6" y2="0"/><path d="M-8.3,-4.8 H8.3 M-8.3,4.8 H8.3"/></g>
<text x="60.3" y="524.9" font-size="19.6" fill="#0b0b0b" font-weight="bold" font-family="'Liberation Sans', Arial, sans-serif" text-anchor="start" textLength="149.4" lengthAdjust="spacingAndGlyphs" >www.comlink.vn</text>
</svg>
</body></html>
